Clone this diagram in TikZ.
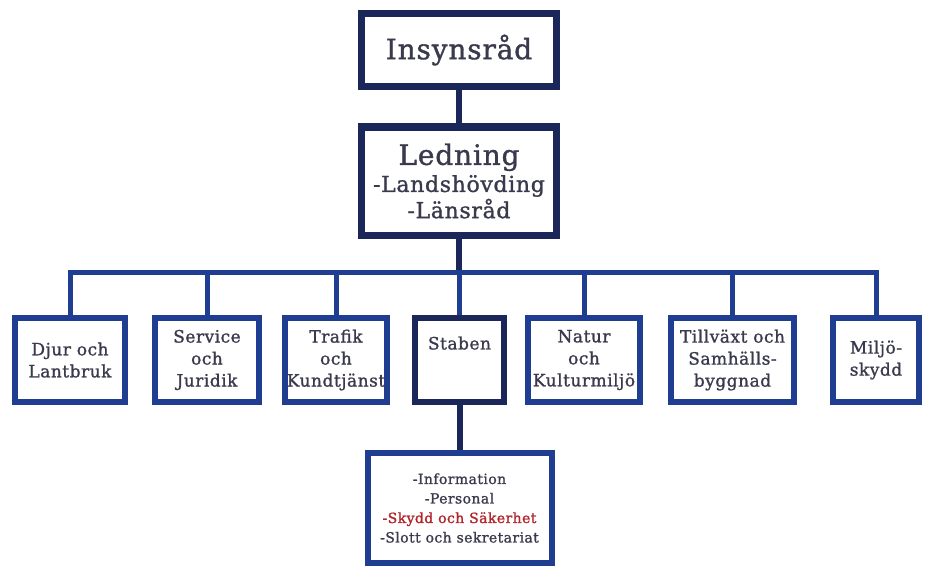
\documentclass[tikz,border=0pt]{standalone}
\usepackage{fontspec}
\setmainfont[LetterSpace=3, FakeBold=1.2]{DejaVu Serif}
\usepackage{xcolor}

\definecolor{navy}{HTML}{1B2758}
\definecolor{royal}{HTML}{1F3D91}
\definecolor{ink}{HTML}{3A3A4E}
\definecolor{alert}{HTML}{B0242A}

\begin{document}
\begin{tikzpicture}[x=1pt, y=-1pt,
            topbox/.style={draw=navy, line width=7pt, fill=white, text=ink, align=center, inner sep=0pt},
            unit/.style={draw=royal, line width=6pt, fill=white, text=ink, align=center, inner sep=0pt,
                minimum height=84pt, font=\fontsize{17}{22}\selectfont},
            link/.style={navy, line width=6pt},
            bus/.style={royal, line width=5pt, line join=miter},
        ]

            \clip (0,0) rectangle (928,567);

            \node[topbox, minimum width=195pt, minimum height=73pt, font=\fontsize{28}{30}\selectfont] (insyn) at (459,50) {Insynsråd};
            \node[topbox, minimum width=195pt, minimum height=108pt] (ledning) at (459,181)
                {{\fontsize{28}{30}\selectfont Ledning}\\[3pt]{\fontsize{22}{28}\selectfont -Landshövding}\\[1pt]{\fontsize{22}{28}\selectfont -Länsråd}};

            \coordinate (fork) at (459,272);

            % avdelningar
            \node[unit, minimum width=110pt] (djur) at (70,360) {Djur och\\Lantbruk};
            \node[unit, minimum width=104pt] (service) at (207,360) {Service\\och\\Juridik};
            \node[unit, minimum width=102pt] (trafik) at (336,360) {Trafik\\och\\Kundtjänst};
            \node[unit, minimum width=89pt, draw=navy] (staben) at (459.5,360) {Staben\\[12pt]};
            \node[unit, minimum width=112pt] (natur) at (584,360) {Natur\\och\\Kulturmiljö};
            \node[unit, minimum width=123pt] (tillvaxt) at (732.5,360) {Tillväxt och\\Samhälls-\\byggnad};
            \node[unit, minimum width=86pt] (miljo) at (876,360) {Miljö-\\skydd};

            \node[unit, minimum width=184pt, minimum height=110pt, font=\fontsize{14}{19.5}\selectfont] (staff) at (459.5,508)
                {-Information\\-Personal\\\textcolor{alert}{-Skydd och Säkerhet}\\-Slott och sekretariat};

            \draw[link] (insyn) -- (ledning);
            \draw[link] (ledning) -- (fork);
            \draw[bus] (djur.north) |- (fork) -| (miljo.north);
            \foreach \n in {service, trafik, staben, natur, tillvaxt}
                \draw[bus] (\n.north) -- (\n.north |- fork);
            \draw[link] (staben) -- (staff);
        \end{tikzpicture}
\end{document}
